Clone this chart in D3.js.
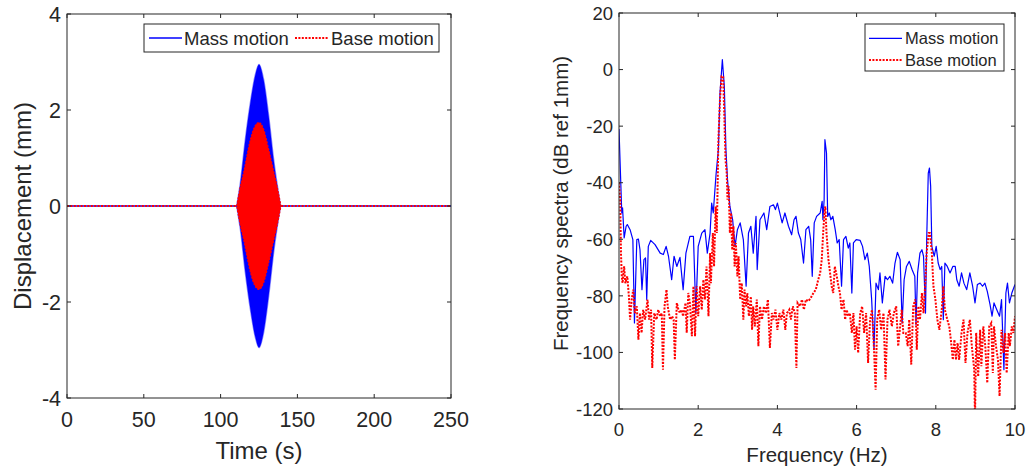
<!DOCTYPE html>
<html>
<head>
<meta charset="utf-8">
<script src="https://cdn.jsdelivr.net/npm/d3@7"></script>
<style>
  body { margin: 0; background: #fff; }
  text { font-family: "Liberation Sans", Arial, Helvetica, sans-serif; fill: #262626; }
</style>
</head>
<body>
<div id="container"></div>
<script>
//---------------------------------------------------------
// DATA

// left panel: envelope of the time signals [time s, amplitude mm]
const massEnvelope = [
  [110.5, 0], [112.9, 0.49], [116.1, 1.38], [119.4, 2.15], [122.6, 2.73],
  [125, 2.95], [128, 2.63], [131.3, 1.87], [134.5, 0.97], [139, 0]
]
const baseEnvelope = [
  [110.5, 0], [112.5, 0.35], [115, 0.7], [119.4, 1.38], [122, 1.64], [125, 1.74],
  [128, 1.6], [131.3, 1.18], [134, 0.8], [136.7, 0.42], [139.3, 0]
]
const timeSpan = [0, 250]

// right panel: frequency spectra [Hz, dB ref 1mm]
const massSpectrum = [
  [0.00, -21.0], [0.07, -50.7], [0.09, -48.9], [0.13, -59.5], [0.18, -55.4], [0.21, -54.8],
  [0.28, -56.6], [0.35, -60.1], [0.39, -89.6], [0.45, -60.1], [0.49, -59.9], [0.53, -63.7],
  [0.58, -77.8], [0.63, -67.2], [0.67, -66.6], [0.70, -81.3], [0.74, -62.5], [0.80, -60.4],
  [0.91, -61.9], [1.04, -64.9], [1.12, -65.4], [1.19, -62.5], [1.25, -66.0], [1.33, -74.3],
  [1.39, -66.0], [1.46, -69.6], [1.54, -66.4], [1.62, -77.8], [1.69, -64.9], [1.79, -59.0],
  [1.88, -59.0], [1.94, -86.1], [2.00, -62.5], [2.09, -57.8], [2.17, -56.6], [2.23, -64.9],
  [2.30, -57.8], [2.34, -47.2], [2.38, -50.7], [2.45, -37.2], [2.51, -28.3], [2.55, -8.3],
  [2.61, 3.5], [2.66, -6.0], [2.70, -28.3], [2.74, -38.9], [2.80, -48.4], [2.87, -53.1],
  [2.93, -62.5], [2.99, -56.6], [3.06, -54.2], [3.14, -60.1], [3.21, -76.6], [3.27, -57.8],
  [3.33, -55.4], [3.39, -64.9], [3.46, -51.9], [3.49, -70.7], [3.56, -53.1], [3.66, -50.7],
  [3.73, -56.6], [3.81, -48.4], [3.90, -47.8], [3.95, -49.5], [4.00, -47.2], [4.07, -51.3],
  [4.12, -54.2], [4.19, -50.7], [4.28, -55.4], [4.36, -58.4], [4.42, -53.1], [4.47, -51.9],
  [4.53, -57.8], [4.59, -60.1], [4.66, -68.4], [4.72, -56.6], [4.79, -55.4], [4.84, -60.1],
  [4.88, -73.1], [4.93, -54.2], [4.99, -51.9], [5.08, -50.7], [5.13, -46.6], [5.15, -53.1],
  [5.18, -46.0], [5.20, -24.8], [5.24, -29.5], [5.27, -51.9], [5.31, -50.7], [5.35, -53.1],
  [5.40, -51.9], [5.46, -56.6], [5.51, -61.3], [5.56, -60.1], [5.62, -76.6], [5.67, -60.1],
  [5.73, -59.0], [5.79, -63.1], [5.83, -61.3], [5.88, -79.0], [5.92, -61.3], [5.99, -60.1],
  [6.09, -60.4], [6.15, -62.5], [6.21, -67.2], [6.27, -64.9], [6.32, -69.6], [6.38, -81.3],
  [6.44, -99.0], [6.49, -75.5], [6.55, -77.8], [6.59, -71.9], [6.65, -82.5], [6.72, -73.1],
  [6.78, -74.3], [6.84, -73.1], [6.91, -75.5], [6.97, -68.4], [7.03, -64.6], [7.10, -67.2],
  [7.15, -89.6], [7.20, -74.3], [7.26, -69.6], [7.33, -67.8], [7.40, -70.7], [7.47, -73.1],
  [7.50, -90.2], [7.54, -71.9], [7.60, -64.9], [7.65, -63.7], [7.69, -66.0], [7.74, -86.1],
  [7.77, -60.1], [7.81, -36.6], [7.84, -34.8], [7.87, -41.3], [7.90, -62.5], [7.96, -66.0],
  [8.01, -62.5], [8.06, -68.4], [8.11, -70.7], [8.15, -69.6], [8.19, -88.4], [8.23, -68.4],
  [8.29, -69.6], [8.36, -71.9], [8.43, -69.6], [8.49, -69.6], [8.53, -74.3], [8.59, -76.6],
  [8.65, -71.9], [8.71, -75.5], [8.78, -77.8], [8.86, -71.9], [8.93, -76.6], [8.99, -82.5],
  [9.05, -76.0], [9.12, -75.5], [9.18, -76.6], [9.24, -75.5], [9.30, -78.4], [9.37, -83.1],
  [9.42, -87.2], [9.47, -82.5], [9.54, -84.9], [9.61, -87.2], [9.66, -81.3], [9.72, -106.1],
  [9.77, -79.0], [9.81, -75.5], [9.86, -82.5], [9.92, -79.0], [10.00, -76.0]
]

const baseSpectrum = [
  [0.00, -39.9], [0.03, -46.0], [0.05, -64.9], [0.07, -73.1], [0.09, -75.5], [0.13, -69.6],
  [0.16, -75.5], [0.21, -73.1], [0.25, -80.2], [0.28, -88.4], [0.32, -81.3], [0.36, -77.8],
  [0.40, -86.1], [0.45, -83.7], [0.49, -95.5], [0.53, -86.1], [0.57, -93.1], [0.61, -84.9],
  [0.66, -88.4], [0.72, -81.3], [0.76, -88.4], [0.81, -84.9], [0.84, -105.5], [0.89, -86.1],
  [0.95, -88.4], [0.99, -84.9], [1.04, -87.2], [1.08, -86.1], [1.11, -106.1], [1.15, -83.7],
  [1.20, -77.8], [1.23, -83.7], [1.29, -88.4], [1.34, -87.2], [1.38, -88.4], [1.41, -102.6],
  [1.46, -82.5], [1.50, -84.9], [1.54, -86.1], [1.58, -84.9], [1.62, -87.2], [1.68, -82.5],
  [1.71, -93.1], [1.75, -79.0], [1.79, -82.5], [1.84, -94.3], [1.88, -76.6], [1.92, -94.3],
  [1.96, -76.6], [2.00, -87.2], [2.05, -76.6], [2.09, -84.9], [2.13, -74.3], [2.17, -81.3],
  [2.21, -69.6], [2.26, -87.2], [2.30, -64.9], [2.32, -75.5], [2.37, -57.8], [2.40, -69.6],
  [2.44, -48.4], [2.47, -57.8], [2.51, -24.8], [2.55, -10.6], [2.59, -2.4], [2.63, -2.4],
  [2.66, -16.5], [2.69, -31.9], [2.72, -36.6], [2.74, -46.0], [2.77, -41.3], [2.80, -57.8],
  [2.83, -50.7], [2.86, -63.7], [2.89, -55.4], [2.92, -69.6], [2.95, -61.3], [2.99, -73.1],
  [3.02, -66.0], [3.06, -81.3], [3.10, -75.5], [3.14, -88.4], [3.17, -77.8], [3.21, -83.7],
  [3.24, -79.0], [3.28, -87.2], [3.33, -80.2], [3.36, -92.0], [3.39, -83.7], [3.43, -90.8],
  [3.48, -81.3], [3.52, -97.8], [3.56, -83.7], [3.61, -88.4], [3.66, -83.7], [3.71, -86.1],
  [3.76, -81.3], [3.81, -98.4], [3.86, -86.1], [3.90, -88.4], [3.95, -84.9], [4.00, -92.0],
  [4.05, -86.1], [4.10, -88.4], [4.15, -84.9], [4.20, -92.0], [4.24, -86.1], [4.30, -84.9],
  [4.34, -88.4], [4.39, -83.7], [4.44, -86.1], [4.48, -105.5], [4.51, -82.5], [4.57, -83.7],
  [4.62, -81.3], [4.67, -84.9], [4.72, -81.3], [4.78, -81.9], [4.84, -80.8], [4.91, -79.0],
  [4.97, -77.8], [5.03, -74.3], [5.08, -71.9], [5.12, -67.2], [5.16, -56.6], [5.19, -50.7],
  [5.21, -48.4], [5.24, -57.8], [5.29, -67.2], [5.33, -71.9], [5.37, -76.6], [5.41, -79.0],
  [5.45, -69.6], [5.50, -73.1], [5.54, -76.6], [5.58, -79.0], [5.62, -84.9], [5.67, -81.3],
  [5.71, -88.4], [5.75, -84.9], [5.79, -87.2], [5.83, -86.1], [5.88, -93.1], [5.92, -86.1],
  [5.96, -99.0], [6.00, -90.8], [6.04, -100.2], [6.09, -86.1], [6.14, -83.7], [6.19, -93.1],
  [6.24, -86.1], [6.29, -103.7], [6.34, -88.4], [6.39, -84.9], [6.44, -99.0], [6.48, -113.2],
  [6.52, -88.4], [6.57, -84.9], [6.62, -92.0], [6.68, -86.1], [6.73, -109.6], [6.78, -88.4],
  [6.83, -84.9], [6.89, -90.8], [6.94, -86.1], [7.00, -83.7], [7.05, -97.8], [7.10, -90.8],
  [7.14, -84.9], [7.18, -93.1], [7.24, -93.1], [7.29, -97.8], [7.33, -88.4], [7.38, -104.3],
  [7.43, -83.7], [7.48, -81.3], [7.52, -99.0], [7.56, -83.7], [7.60, -88.4], [7.65, -79.0],
  [7.69, -86.1], [7.73, -76.6], [7.77, -64.9], [7.82, -57.8], [7.85, -57.8], [7.90, -64.9],
  [7.94, -76.6], [7.99, -81.3], [8.04, -88.4], [8.09, -92.0], [8.15, -84.9], [8.19, -76.6],
  [8.23, -84.9], [8.29, -88.4], [8.34, -90.8], [8.38, -95.5], [8.43, -102.6], [8.47, -95.5],
  [8.51, -102.6], [8.55, -96.7], [8.59, -102.6], [8.65, -93.1], [8.70, -88.4], [8.75, -103.7],
  [8.80, -93.1], [8.86, -88.4], [8.91, -97.8], [8.97, -106.1], [8.99, -123.8], [9.02, -93.1],
  [9.07, -108.5], [9.12, -92.0], [9.15, -104.9], [9.20, -90.8], [9.25, -97.8], [9.30, -110.8],
  [9.35, -90.8], [9.40, -89.6], [9.44, -107.3], [9.47, -90.8], [9.52, -97.8], [9.57, -102.6],
  [9.61, -115.5], [9.66, -92.0], [9.71, -100.2], [9.75, -93.1], [9.79, -107.3], [9.84, -93.1],
  [9.87, -97.8], [9.92, -90.8], [9.96, -93.1], [10.00, -87.2]
]

const timeTicks = [0, 50, 100, 150, 200, 250]
const dispTicks = [-4, -2, 0, 2, 4]
const freqTicks = [0, 2, 4, 6, 8, 10]
const dbTicks = [-120, -100, -80, -60, -40, -20, 0, 20]
const seriesNames = ['Mass motion', 'Base motion']

//---------------------------------------------------------
// SETUP

const width = 1029
const height = 467
const massColor = '#0000ff'
const baseColor = '#ff0000'
const axisColor = '#262626'
const dotted = '2,1.4'
const tickLen = 4

const svg = d3.select('#container').append('svg')
  .attr('width', width)
  .attr('height', height)
  .style('display', 'block')

svg.append('rect').attr('width', width).attr('height', height).attr('fill', '#fff')

// matlab style box axes, ticks pointing inside on all four sides
function drawBox(g, x, y, xTicks, yTicks, fontSize) {
  const [x0, x1] = x.range()
  const [y0, y1] = y.range()
  const capHalf = fontSize * 0.36

  g.append('rect')
    .attr('x', x0).attr('y', y1)
    .attr('width', x1 - x0).attr('height', y0 - y1)
    .attr('fill', 'none').attr('stroke', axisColor).attr('stroke-width', 1)

  xTicks.forEach(t => {
    g.append('line').attr('x1', x(t)).attr('x2', x(t)).attr('y1', y0).attr('y2', y0 - tickLen)
      .attr('stroke', axisColor)
    g.append('line').attr('x1', x(t)).attr('x2', x(t)).attr('y1', y1).attr('y2', y1 + tickLen)
      .attr('stroke', axisColor)
    g.append('text').attr('x', x(t)).attr('y', y0 + 14 + fontSize * 0.72)
      .attr('text-anchor', 'middle').style('font-size', `${fontSize}px`).text(t)
  })
  yTicks.forEach(t => {
    g.append('line').attr('x1', x0).attr('x2', x0 + tickLen).attr('y1', y(t)).attr('y2', y(t))
      .attr('stroke', axisColor)
    g.append('line').attr('x1', x1).attr('x2', x1 - tickLen).attr('y1', y(t)).attr('y2', y(t))
      .attr('stroke', axisColor)
    g.append('text').attr('x', x0 - 6).attr('y', y(t) + capHalf)
      .attr('text-anchor', 'end').style('font-size', `${fontSize}px`).text(t)
  })
}

// //------------------------------------------------------
// // LEFT: DISPLACEMENT

const xTime = d3.scaleLinear().domain([0, 250]).range([67, 451])
const yDisp = d3.scaleLinear().domain([-4, 4]).range([398, 14])

const left = svg.append('g')

const envArea = d3.area()
  .x(d => xTime(d[0]))
  .y0(d => yDisp(-d[1]))
  .y1(d => yDisp(d[1]))
  .curve(d3.curveMonotoneX)

const flatLine = d3.line().x(d => xTime(d)).y(() => yDisp(0))

left.append('path').datum(massEnvelope)
  .attr('d', envArea).attr('fill', massColor)
  .attr('stroke', massColor).attr('stroke-opacity', 0.45).attr('stroke-width', 1.5)
left.append('path').datum(timeSpan)
  .attr('d', flatLine).attr('fill', 'none').attr('stroke', massColor).attr('stroke-width', 1.6)

left.append('path').datum(baseEnvelope)
  .attr('d', envArea).attr('fill', baseColor)
  .attr('stroke', baseColor).attr('stroke-width', 1.2).attr('stroke-dasharray', dotted)
left.append('path').datum(timeSpan)
  .attr('d', flatLine).attr('fill', 'none').attr('stroke', baseColor)
  .attr('stroke-width', 2).attr('stroke-dasharray', dotted)

drawBox(left, xTime, yDisp, timeTicks, dispTicks, 21.5)

left.append('text')
  .attr('x', xTime(125)).attr('y', 459)
  .attr('text-anchor', 'middle').style('font-size', '24px').text('Time (s)')
left.append('text')
  .attr('transform', `translate(30.5, ${yDisp(0)}) rotate(-90)`)
  .attr('text-anchor', 'middle').style('font-size', '24px').text('Displacement (mm)')

// legend, one row
const legL = left.append('g')
legL.append('rect').attr('x', 144).attr('y', 24).attr('width', 295).attr('height', 28)
  .attr('fill', '#fff').attr('stroke', axisColor).attr('stroke-width', 1)
legL.append('line').attr('x1', 149).attr('x2', 182).attr('y1', 38).attr('y2', 38)
  .attr('stroke', massColor).attr('stroke-width', 1.5)
legL.append('text').attr('x', 184).attr('y', 44.5).style('font-size', '18.5px').text(seriesNames[0])
legL.append('line').attr('x1', 295).attr('x2', 328).attr('y1', 38).attr('y2', 38)
  .attr('stroke', baseColor).attr('stroke-width', 2).attr('stroke-dasharray', dotted)
legL.append('text').attr('x', 331).attr('y', 44.5).style('font-size', '18.5px').text(seriesNames[1])

// //------------------------------------------------------
// // RIGHT: FREQUENCY SPECTRA

const xFreq = d3.scaleLinear().domain([0, 10]).range([619, 1015])
const yDb = d3.scaleLinear().domain([-120, 20]).range([409, 13])

const right = svg.append('g')

svg.append('clipPath').attr('id', 'specClip')
  .append('rect').attr('x', 619).attr('y', 13).attr('width', 396).attr('height', 396)

const specLine = d3.line().x(d => xFreq(d[0])).y(d => yDb(d[1]))

const plotArea = right.append('g').attr('clip-path', 'url(#specClip)')
plotArea.append('path').datum(massSpectrum)
  .attr('d', specLine).attr('fill', 'none').attr('stroke', massColor)
  .attr('stroke-width', 1.2).attr('stroke-linejoin', 'round')
plotArea.append('path').datum(baseSpectrum)
  .attr('d', specLine).attr('fill', 'none').attr('stroke', baseColor)
  .attr('stroke-width', 2).attr('stroke-dasharray', dotted)

drawBox(right, xFreq, yDb, freqTicks, dbTicks, 18.5)

right.append('text')
  .attr('x', xFreq(5)).attr('y', 462)
  .attr('text-anchor', 'middle').style('font-size', '20.5px').text('Frequency (Hz)')
right.append('text')
  .attr('transform', `translate(567.5, 203.5) rotate(-90)`)
  .attr('text-anchor', 'middle').style('font-size', '20.5px').text('Frequency spectra (dB ref 1mm)')

// legend, two rows
const legR = right.append('g')
legR.append('rect').attr('x', 865).attr('y', 24).attr('width', 139).attr('height', 47)
  .attr('fill', '#fff').attr('stroke', axisColor).attr('stroke-width', 1)
seriesNames.forEach((name, i) => {
  const cy = 38.3 + i * 21.7
  legR.append('line').attr('x1', 869).attr('x2', 902).attr('y1', cy).attr('y2', cy)
    .attr('stroke', i ? baseColor : massColor)
    .attr('stroke-width', i ? 2 : 1.2)
    .attr('stroke-dasharray', i ? dotted : null)
  legR.append('text').attr('x', 905).attr('y', cy + 6)
    .style('font-size', '16.5px').text(name)
})
</script>
</body>
</html>
